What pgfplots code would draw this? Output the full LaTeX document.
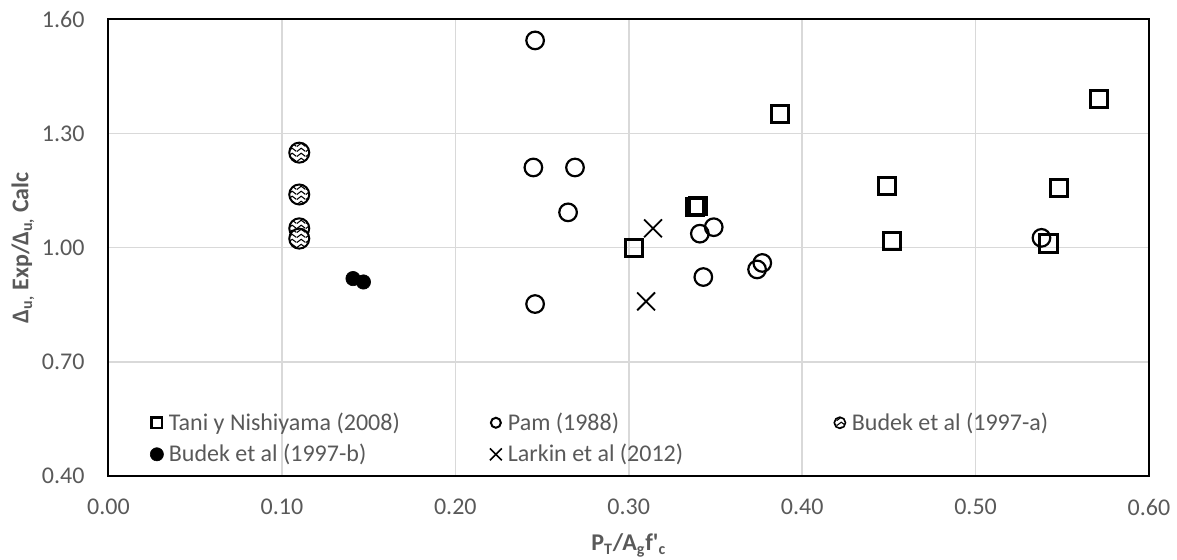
\documentclass[border=0pt]{standalone}
\usepackage{pgfplots}
\pgfplotsset{compat=1.18}
\usepackage{fontspec}
\setmainfont{Carlito}
\usetikzlibrary{patterns.meta}
\definecolor{tickgray}{HTML}{595959}
\definecolor{gridgray}{HTML}{D9D9D9}
\tikzdeclarepattern{
  name=chevron,
  type=uncolored,
  bottom left={(0pt,0pt)},
  top right={(4.5pt,2.4pt)},
  tile size={(4.5pt,2.4pt)},
  code={
    \pgfsetlinewidth{0.55pt}
    \pgfpathmoveto{\pgfqpoint{0pt}{0.3pt}}
    \pgfpathlineto{\pgfqpoint{2.25pt}{1.9pt}}
    \pgfpathlineto{\pgfqpoint{4.5pt}{0.3pt}}
    \pgfusepath{stroke}
  }
}
\pgfdeclareplotmark{patcircle}{%
  \pgfpathcircle{\pgfpointorigin}{\pgfplotmarksize}%
  \pgfsetfillcolor{white}\pgfusepathqfill
  \pgfpathcircle{\pgfpointorigin}{\pgfplotmarksize}%
  \pgfsetfillpattern{chevron}{black}%
  \pgfusepathqfillstroke
}
\begin{document}
\begin{tikzpicture}
\path[use as bounding box] (-54.25pt,-42pt) rectangle (534.25pt,238pt);
\begin{axis}[
  at={(0pt,0pt)}, anchor=south west,
  scale only axis, width=520.25pt, height=228.25pt,
  xmin=0, xmax=0.6, ymin=0.4, ymax=1.6,
  xtick={0,0.1,0.2,0.3,0.4,0.5,0.6},
  ytick={0.4,0.7,1.0,1.3,1.6},
  grid=major,
  major grid style={draw=gridgray, line width=0.75pt},
  major tick length=0pt,
  axis line style={line width=1pt},
  tick label style={font=\fontsize{12pt}{14pt}\selectfont, text=tickgray},
  xticklabel style={yshift=-8pt, /pgf/number format/.cd, fixed, fixed zerofill, precision=2, assume math mode=true},
  yticklabel style={xshift=-8.5pt, /pgf/number format/.cd, fixed, fixed zerofill, precision=2, assume math mode=true},
  xlabel={P\textsubscript{T}/A\textsubscript{g}f\textquotesingle\textsubscript{c}},
  xlabel style={at={([yshift=-37.5pt]axis description cs:0.5,0)}, anchor=base, font=\fontsize{12pt}{14pt}\selectfont\bfseries, text=tickgray},
  ylabel={Δ\textsubscript{u,} Exp/Δ\textsubscript{u,} Calc},
  ylabel style={at={([xshift=-40pt]axis description cs:0,0.5)}, anchor=base, font=\fontsize{12pt}{14pt}\selectfont\bfseries, text=tickgray},
  legend columns=3,
  legend style={at={(axis description cs:0.0365,0.140)}, anchor=north west, draw=none, fill=none, inner sep=0pt,
    font=\fontsize{12pt}{14pt}\selectfont, text=tickgray, row sep=5.5pt, nodes={inner xsep=1pt, inner ysep=0pt}},
  legend cell align=left,
  legend image code/.code={\draw[#1] plot coordinates {(0pt,0pt)}; \path[draw=none, fill=none] (-5pt,0pt) rectangle (5pt,0.1pt);},
]
\addplot[only marks, black, mark=square, mark size=4.3pt, line width=1.5pt,
  legend image post style={mark size=2.6pt, line width=1.2pt}] coordinates {
  (0.303,1.000) (0.338,1.107) (0.340,1.110) (0.387,1.352) (0.449,1.163)
  (0.452,1.017) (0.542,1.011) (0.548,1.157) (0.571,1.392)};
\addlegendentry{\makebox[157.5pt][l]{Tani y Nishiyama (2008)}}
\addplot[only marks, black, mark=o, mark size=4.4pt, line width=1.1pt,
  legend image post style={mark size=2.5pt, line width=1pt}] coordinates {
  (0.246,1.545) (0.245,1.211) (0.269,1.211) (0.265,1.093) (0.246,0.852)
  (0.341,1.037) (0.349,1.054) (0.343,0.923) (0.374,0.943) (0.377,0.960)
  (0.538,1.026)};
\addlegendentry{\makebox[160pt][l]{Pam (1988)}}
\addplot[only marks, black, mark=patcircle, mark size=5pt, line width=1pt,
  legend image post style={mark size=2.8pt, line width=0.8pt}] coordinates {
  (0.110,1.250) (0.110,1.140) (0.110,1.051) (0.110,1.024)};
\addlegendentry{Budek et al (1997-a)}
\addplot[only marks, black, mark=*, mark size=3.6pt, line width=0.3pt,
  legend image post style={mark size=3.3pt}] coordinates {
  (0.141,0.919) (0.147,0.910)};
\addlegendentry{Budek et al (1997-b)}
\addplot[only marks, black, mark=x, mark size=6.3pt, line width=0.9pt,
  legend image post style={mark size=4.2pt, line width=0.8pt}] coordinates {
  (0.314,1.051) (0.310,0.859)};
\addlegendentry{Larkin et al (2012)}
\end{axis}
\end{tikzpicture}
\end{document}
